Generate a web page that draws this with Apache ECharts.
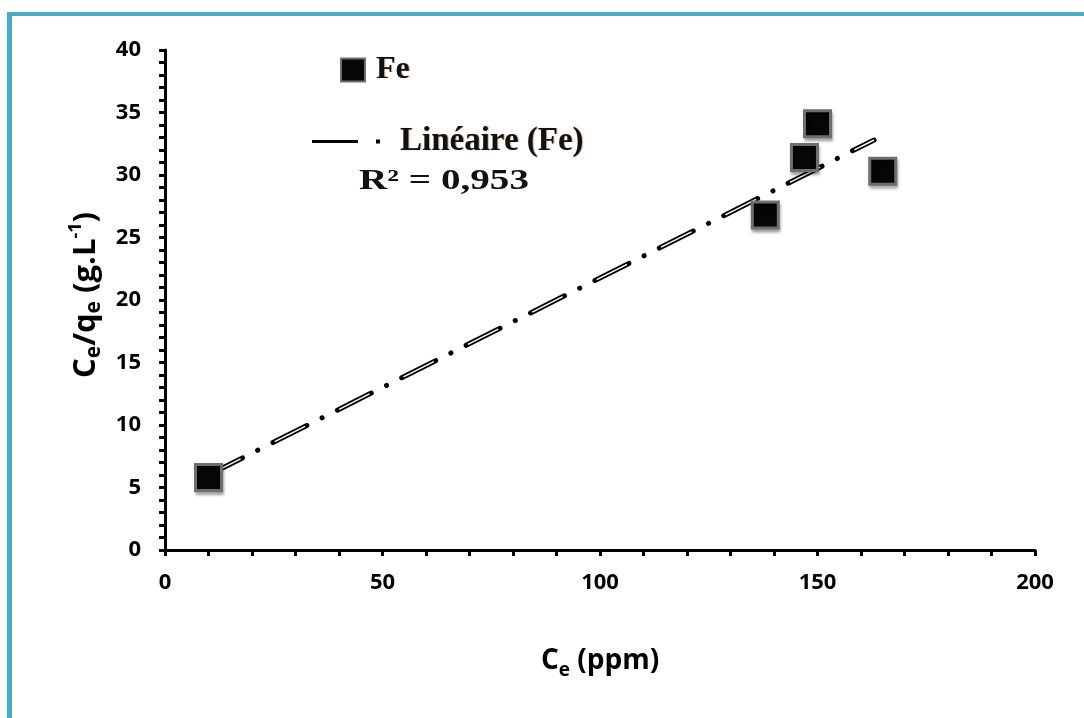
<!DOCTYPE html>
<html>
<head>
<meta charset="utf-8">
<script src="https://cdn.jsdelivr.net/npm/echarts@6/dist/echarts.min.js"></script>
<style>html,body{margin:0;padding:0;background:#fff}#c{width:1084px;height:718px}</style>
</head>
<body>
<div id="c"></div>
<script>
// Data
var feX = [10, 138, 147, 150, 165];
var feY = [5.8, 26.8, 31.4, 34.1, 30.3];
var trendX = [10, 163];
var trendY = [6.0, 32.8];
var xTicks = [0, 50, 100, 150, 200];
var yTicks = [0, 5, 10, 15, 20, 25, 30, 35, 40];
var r2Text = 'R² = 0,953';

var fePoints = feX.map(function (x, i) { return [x, feY[i]]; });
var trendPoints = trendX.map(function (x, i) { return [x, trendY[i]]; });

var chart = echarts.init(document.getElementById('c'));
var labelFont = '"Open Sans", "Liberation Sans", sans-serif';
var serif = '"Liberation Serif", "DejaVu Serif", serif';
var glow = { textShadowColor: 'rgba(170,95,30,0.5)', textShadowBlur: 1, textShadowOffsetX: 1 };

chart.setOption({
  animation: false,
  backgroundColor: '#fff',
  grid: { left: 165, right: 49, top: 50, bottom: 168, containLabel: false },
  xAxis: {
    type: 'value', min: xTicks[0], max: xTicks[xTicks.length - 1], interval: 50,
    axisLine: { lineStyle: { color: '#000', width: 3 } },
    axisTick: { show: true, length: 6, lineStyle: { color: '#000', width: 3 } },
    minorTick: { show: true, splitNumber: 5, length: 6, lineStyle: { color: '#000', width: 3 } },
    splitLine: { show: false },
    axisLabel: { margin: 22, color: '#000', fontFamily: labelFont, fontWeight: 'bold', fontSize: 22 },
    name: '{m|C}{s|e}{m| (ppm)}',
    nameLocation: 'middle', nameGap: 92,
    nameTextStyle: {
      rich: {
        m: { fontFamily: labelFont, fontWeight: 'bold', fontSize: 28, color: '#000', lineHeight: 38 },
        s: { fontFamily: labelFont, fontWeight: 'bold', fontSize: 19, color: '#000', lineHeight: 19, verticalAlign: 'bottom' }
      }
    }
  },
  yAxis: {
    type: 'value', min: yTicks[0], max: yTicks[yTicks.length - 1], interval: 5,
    axisLine: { show: true, lineStyle: { color: '#000', width: 3 } },
    axisTick: { show: true, length: 6, lineStyle: { color: '#000', width: 3 } },
    minorTick: { show: true, splitNumber: 5, length: 6, lineStyle: { color: '#000', width: 3 } },
    splitLine: { show: false },
    axisLabel: { margin: 24, color: '#000', fontFamily: labelFont, fontWeight: 'bold', fontSize: 22 },
    name: '{m|C}{s|e}{m|/q}{s|e}{m| (g.L}{p|-1}{m|)}',
    nameLocation: 'middle', nameGap: 58, nameRotate: 90,
    nameTextStyle: {
      padding: [0, 0, 0, 10],
      rich: {
        m: { fontFamily: labelFont, fontWeight: 'bold', fontSize: 31, color: '#000', lineHeight: 38 },
        s: { fontFamily: labelFont, fontWeight: 'bold', fontSize: 21, color: '#000', lineHeight: 21, verticalAlign: 'bottom' },
        p: { fontFamily: labelFont, fontWeight: 'bold', fontSize: 18, color: '#000', lineHeight: 18, verticalAlign: 'top' }
      }
    }
  },
  legend: [
    {
      data: ['Fe'], left: 340, top: 54, padding: 0, orient: 'vertical', selectedMode: false,
      itemWidth: 24, itemHeight: 23,
      textStyle: Object.assign({ fontFamily: serif, fontWeight: 'bold', fontSize: 32, color: '#111', padding: [0, 0, 0, 6] }, glow)
    },
    {
      data: [{ name: 'Linéaire (Fe)', icon: 'path://M0,0.6h46v2.8h-46z M64,0h4v4h-4z' }],
      left: 312, top: 125, padding: 0, orient: 'vertical', selectedMode: false,
      itemWidth: 70, itemHeight: 4,
      textStyle: Object.assign({ fontFamily: serif, fontWeight: 'bold', fontSize: 33, color: '#111', padding: [0, 0, 0, 14] }, glow)
    }
  ],
  graphic: [
    { type: 'rect', left: 7, top: 12, shape: { width: 1077, height: 4 }, style: { fill: '#4BACC6' }, z: 100 },
    { type: 'rect', left: 7, top: 12, shape: { width: 5, height: 706 }, style: { fill: '#4BACC6' }, z: 100 },
    { type: 'text', x: 359, y: 167, scaleX: 1.35, style: { text: r2Text, fontFamily: serif, fontWeight: 'bold', fontSize: 29, fill: '#111',
      shadowColor: 'rgba(170,95,30,0.5)', shadowBlur: 1, shadowOffsetX: 1 } }
  ],
  series: [
    {
      name: 'Linéaire (Fe)', type: 'line', data: trendPoints, symbol: 'none', z: 3,
      color: '#000',
      lineStyle: { color: '#000', width: 5, type: [38, 17, 0.1, 17], cap: 'round' }
    },
    {
      name: 'trend-inner', type: 'line', data: trendPoints, symbol: 'none', z: 4, silent: true,
      lineStyle: { color: '#fff', width: 1.4, type: [34, 38.1], dashOffset: -2, cap: 'butt' }
    },
    {
      name: 'Fe', type: 'scatter', data: fePoints, symbol: 'rect', symbolSize: 26, z: 5,
      itemStyle: {
        color: '#060606', opacity: 1,
        borderColor: '#6e6e6e', borderWidth: 3,
        shadowColor: 'rgba(0,0,0,0.3)', shadowBlur: 3, shadowOffsetX: 1, shadowOffsetY: 3
      }
    }
  ]
});
</script>
</body>
</html>
